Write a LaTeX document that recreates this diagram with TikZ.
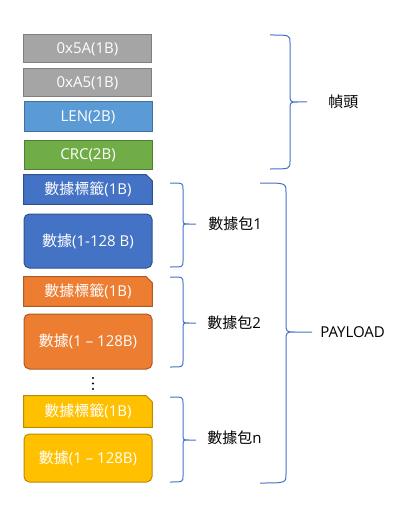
\documentclass[tikz,border=0pt]{standalone}
\usepackage{fontspec}
\setmainfont{Open Sans}
\newfontfamily\cjk{Noto Sans CJK TC}
\usetikzlibrary{backgrounds}
\definecolor{greyF}{HTML}{A5A5A5}\definecolor{greyD}{HTML}{7F7F7F}
\definecolor{lenF}{HTML}{5B9BD5}\definecolor{lenD}{HTML}{41719C}
\definecolor{crcF}{HTML}{70AD47}\definecolor{crcD}{HTML}{507E32}
\definecolor{bluF}{HTML}{4472C4}\definecolor{bluD}{HTML}{2F528F}
\definecolor{orgF}{HTML}{ED7D31}\definecolor{orgD}{HTML}{AE5A21}
\definecolor{yelF}{HTML}{FFC000}\definecolor{yelD}{HTML}{BC8C00}
\definecolor{bracec}{HTML}{4472C4}
\newcommand\mybrace[7]{% xl xm xt yt ytip yb r
  \draw[brc] (#1,#4) .. controls (#2,#4) .. (#2,{#4+#7}) -- (#2,{#5-#7})
    .. controls (#2,#5) .. ({#2+#7},#5) -- (#3,#5)
    ({#2+#7},#5) .. controls (#2,#5) .. (#2,{#5+#7}) -- (#2,{#6-#7})
    .. controls (#2,#6) .. (#1,#6);}
\newcommand\snipbox[3]{% node, fill, draw
  \begin{pgfonlayer}{background}
  \filldraw[fill=#2,draw=#3,line width=0.75pt] (#1.south west) -- (#1.north west)
    -- ([xshift=-4.5pt]#1.north east) -- ([yshift=-4.5pt]#1.north east)
    -- (#1.south east) -- cycle;
  \end{pgfonlayer}}
\begin{document}
\begin{tikzpicture}[x=0.75pt,y=-0.75pt,
  font=\fontsize{11.25}{13}\selectfont,
  box/.style={draw, line width=0.75pt, text=white, minimum width=96pt, inner sep=0pt},
  labbox/.style={text=white, minimum width=96pt, inner sep=0pt},
  datbox/.style={box, rounded corners=4pt},
  brc/.style={draw=bracec, line width=0.75pt},
  lbl/.style={text=black, anchor=west, inner sep=0pt}]
\useasboundingbox (0,0) rectangle (413,506);
\node[box, fill=greyF, draw=greyD, minimum height=21pt] (h1) at (87.5,49) {0x5A(1B)};
\node[box, fill=greyF, draw=greyD, minimum height=21pt] (h2) at (87.5,83) {0xA5(1B)};
\node[box, fill=lenF, draw=lenD, minimum height=22.5pt] (len) at (88,117) {LEN(2B)};
\node[box, fill=crcF, draw=crcD, minimum height=21pt] (crc) at (88,155) {CRC(2B)};
\node[labbox, minimum height=21.75pt] (t1) at (88,189.5) {{\cjk 數據標籤}(1B)};
\snipbox{t1}{bluF}{bluD}
\node[datbox, fill=bluF, draw=bluD, minimum height=40.5pt] (d1) at (88,241) {{\cjk 數據}(1-128 B)};
\node[labbox, minimum height=21.75pt] (t2) at (88,291.5) {{\cjk 數據標籤}(1B)};
\snipbox{t2}{orgF}{orgD}
\node[datbox, fill=orgF, draw=orgD, minimum height=41.25pt] (d2) at (88,341.5) {{\cjk 數據}(1 – 128B)};
\foreach \yy [count=\i] in {378,383.5,389}
  \fill (93,\yy) circle[radius=1.1] coordinate (dot\i);
\node[labbox, minimum height=23.25pt] (t3) at (88,411.5) {{\cjk 數據標籤}(1B)};
\snipbox{t3}{yelF}{yelD}
\node[datbox, fill=yelF, draw=yelD, minimum height=36pt] (d3) at (88,458) {{\cjk 數據}(1 – 128B)};
% braces
\mybrace{270}{290}{307}{35}{102}{169}{8}
\mybrace{260}{286}{312}{183}{332}{483}{9}
\mybrace{170}{183}{196}{183}{224}{267}{6}
\mybrace{170}{183}{196}{277}{323}{367}{6}
\mybrace{170}{183}{196}{397}{440}{482}{6}
\node[lbl] (fh) at (328,102) {\cjk 幀頭};
\node[lbl] (p1) at (208,224) {{\cjk 數據包}1};
\node[lbl] (p2) at (207,323) {{\cjk 數據包}2};
\node[lbl] (pn) at (207,438) {{\cjk 數據包}n};
\node[lbl] (pl) at (320,332) {PAYLOAD};
\end{tikzpicture}
\end{document}
